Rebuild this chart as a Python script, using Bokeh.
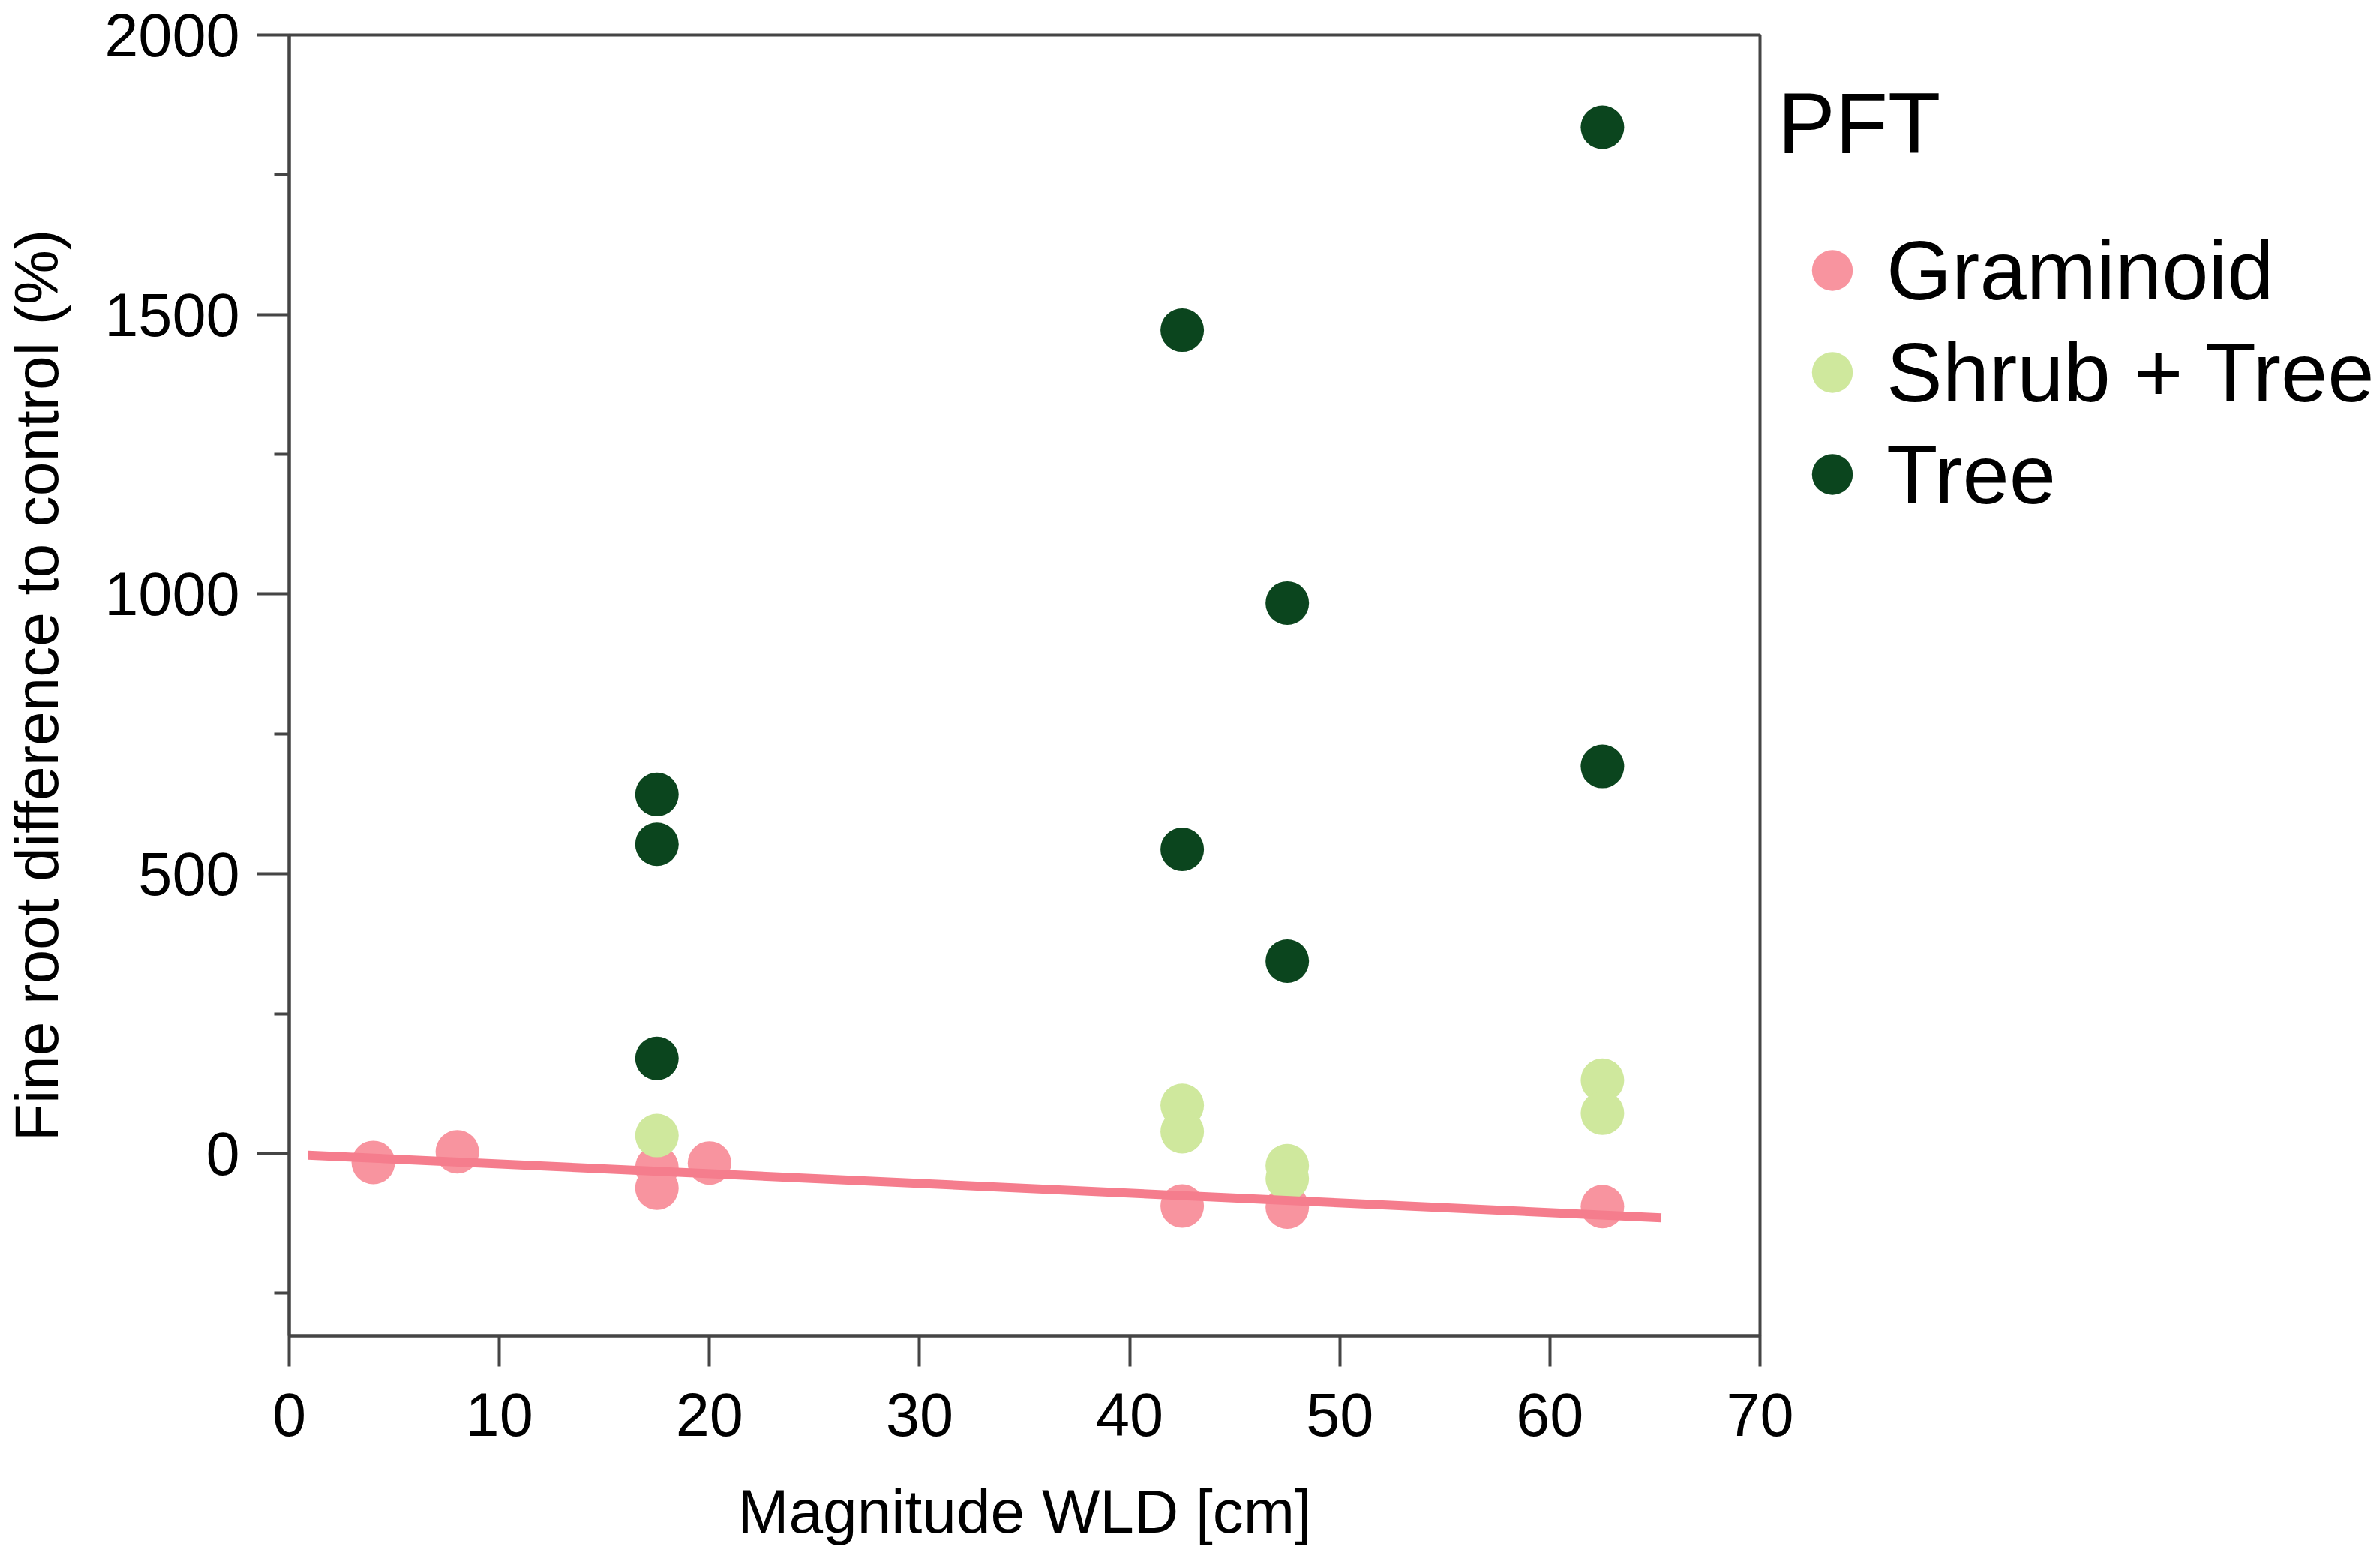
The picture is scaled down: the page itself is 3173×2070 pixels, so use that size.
from bokeh.plotting import figure
from bokeh.models import FixedTicker, Legend, LegendItem, Range1d
from bokeh.embed import file_html
from bokeh.resources import INLINE

# ---- data ----
gram_x = [4, 8, 17.5, 17.5, 20, 42.5, 47.5, 62.5]
gram_y = [-16, 3, -25, -62, -17, -94, -96, -95]

shrub_x = [17.5, 42.5, 42.5, 47.5, 47.5, 62.5, 62.5]
shrub_y = [32, 86, 39, -22, -45, 131, 72]

tree_x = [17.5, 17.5, 17.5, 42.5, 42.5, 47.5, 47.5, 62.5, 62.5]
tree_y = [642, 553, 170, 1472, 544, 984, 344, 1835, 692]

fit_x = [0.9, 65.3]
fit_y = [-3, -115]

x_ticks = [0, 10, 20, 30, 40, 50, 60, 70]
y_ticks = [0, 500, 1000, 1500, 2000]
y_minor = [-250, 250, 750, 1250, 1750]

legend_labels = ["Graminoid", "Shrub + Tree", "Tree"]
legend_title = "PFT"
x_label = "Magnitude WLD [cm]"
y_label = "Fine root difference to control (%)"

C_GRAM = "#F8949F"
C_SHRUB = "#CFE89D"
C_TREE = "#0B451E"
C_LINE = "#F57D8D"
AXIS = "#454545"
FONT = "Liberation Sans"

p = figure(
    frame_width=1961, frame_height=1734,
    min_border_left=381, min_border_top=46, min_border_right=780, min_border_bottom=260,
    x_range=Range1d(0, 70), y_range=Range1d(-326, 2000),
    output_backend="svg", toolbar_location=None,
    background_fill_color="white", border_fill_color="white",
)
p.xgrid.visible = False
p.ygrid.visible = False
p.outline_line_color = AXIS
p.outline_line_width = 4

r_g = p.scatter(gram_x, gram_y, size=58, color=C_GRAM, line_color=None)
r_s = p.scatter(shrub_x, shrub_y, size=58, color=C_SHRUB, line_color=None)
r_t = p.scatter(tree_x, tree_y, size=58, color=C_TREE, line_color=None)
p.line(fit_x, fit_y, line_color=C_LINE, line_width=12)

# axes
xa = p.xaxis[0]
xa.ticker = FixedTicker(ticks=x_ticks)
xa.major_tick_out = 41
xa.major_tick_in = 0
xa.minor_tick_out = 0
xa.minor_tick_in = 0
xa.major_label_standoff = 35
xa.axis_label = x_label
xa.axis_label_standoff = 52

ya = p.yaxis[0]
ya.ticker = FixedTicker(ticks=y_ticks, minor_ticks=y_minor)
ya.major_tick_out = 43
ya.major_tick_in = 0
ya.minor_tick_out = 20
ya.minor_tick_in = 0
ya.major_label_standoff = 23
ya.axis_label = y_label
ya.axis_label_standoff = 42

for ax in (xa, ya):
    ax.axis_line_color = AXIS
    ax.axis_line_width = 4
    ax.major_tick_line_color = AXIS
    ax.major_tick_line_width = 4
    ax.minor_tick_line_color = AXIS
    ax.minor_tick_line_width = 4
    ax.major_label_text_font = FONT
    ax.major_label_text_font_size = "81px"
    ax.major_label_text_color = "black"
    ax.axis_label_text_font = FONT
    ax.axis_label_text_font_size = "82px"
    ax.axis_label_text_font_style = "normal"
    ax.axis_label_text_color = "black"

legend = Legend(
    items=[LegendItem(label=legend_labels[0], renderers=[r_g]),
           LegendItem(label=legend_labels[1], renderers=[r_s]),
           LegendItem(label=legend_labels[2], renderers=[r_t])],
    title=legend_title,
    location=(24, 1080),
    glyph_width=145, glyph_height=136, spacing=0,
    label_standoff=0, padding=0, margin=0,
    border_line_alpha=0, background_fill_alpha=0,
    label_text_font=FONT, label_text_font_size="112px", label_text_color="black",
    title_text_font=FONT, title_text_font_size="115px", title_text_font_style="normal",
    title_text_color="black", title_standoff=62,
)
p.add_layout(legend, "right")

open("out.html", "w").write(file_html(p, INLINE))
